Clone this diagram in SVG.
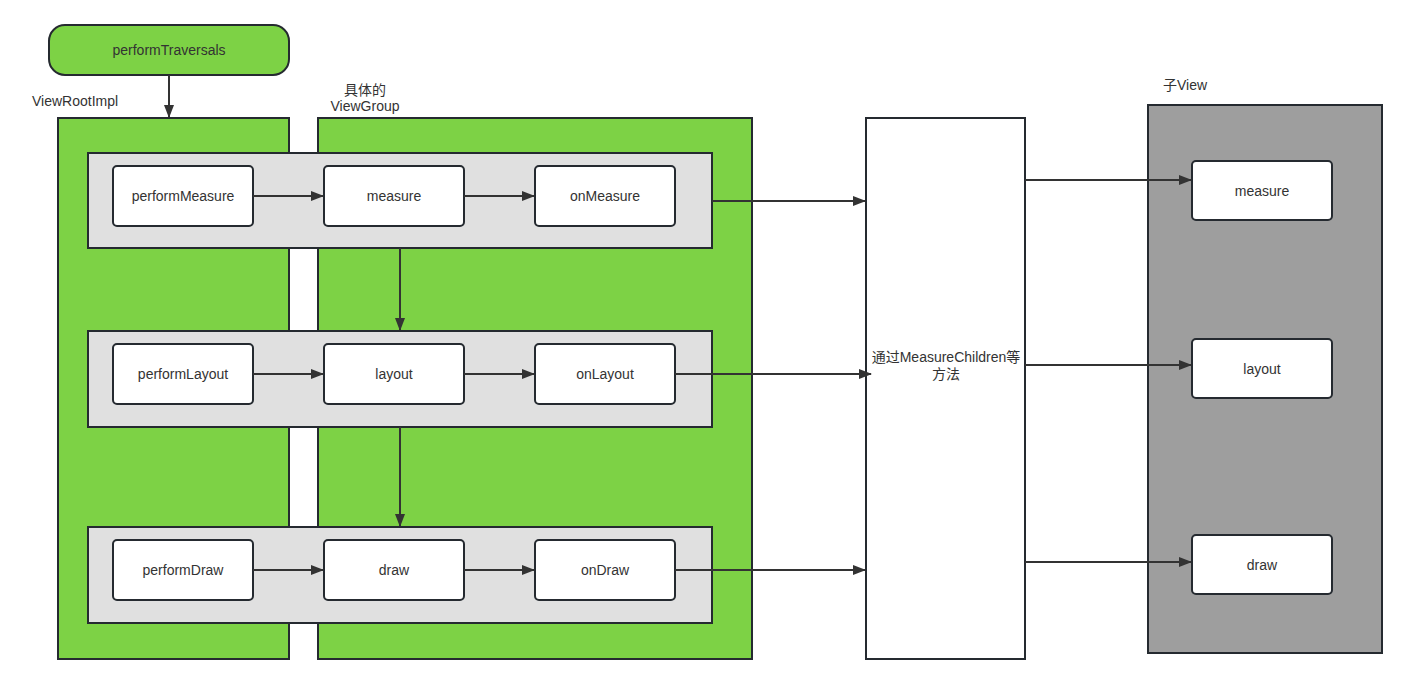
<svg xmlns="http://www.w3.org/2000/svg" width="1407" height="684" viewBox="0 0 1407 684">
<defs>
<marker id="ah" markerWidth="13" markerHeight="10" refX="12" refY="5" orient="auto" markerUnits="userSpaceOnUse">
<path d="M0,0 L13,5 L0,10 Z" fill="#333"/>
</marker>
<style>
text{font-family:"Liberation Sans","Noto Sans CJK SC",sans-serif;font-size:14px;fill:#333;}
.c{text-anchor:middle;dominant-baseline:central;}
.g{fill:#7dd245;stroke:#252a30;stroke-width:2;}
.band{fill:#e0e0e0;stroke:#252a30;stroke-width:2;}
.box{fill:#fff;stroke:#252a30;stroke-width:2;}
.grey{fill:#9e9e9e;stroke:#252a30;stroke-width:2;}
.e{stroke:#333;stroke-width:2;fill:none;marker-end:url(#ah);}
</style>
</defs>
<rect width="1407" height="684" fill="#fff"/>
<g id="viewrootimpl"><rect class="g" x="58" y="118" width="231" height="541"/><text x="32" y="106">ViewRootImpl</text></g>
<g id="viewgroup"><rect class="g" x="318" y="118" width="434" height="541"/><text class="c" x="365" y="90">具体的</text><text class="c" x="365" y="106">ViewGroup</text></g>
<g id="middle"><rect class="box" x="866" y="118" width="159" height="541"/><text class="c" x="946" y="357">通过MeasureChildren等</text><text class="c" x="946" y="374">方法</text></g>
<g id="childview"><rect class="grey" x="1148" y="105" width="234" height="548"/><text x="1163" y="90">子View</text></g>
<g id="traversals"><rect class="g" x="49" y="25" width="240" height="50" rx="16"/><text class="c" x="169" y="50">performTraversals</text></g>
<g id="band-measure"><rect class="band" x="88" y="153" width="624" height="95"/></g>
<g id="band-layout"><rect class="band" x="88" y="331" width="624" height="96"/></g>
<g id="band-draw"><rect class="band" x="88" y="527" width="624" height="96"/></g>
<g id="performMeasure"><rect class="box" x="113" y="166" width="140" height="60" rx="4"/><text class="c" x="183" y="196">performMeasure</text></g>
<g id="measure"><rect class="box" x="324" y="166" width="140" height="60" rx="4"/><text class="c" x="394" y="196">measure</text></g>
<g id="onMeasure"><rect class="box" x="535" y="166" width="140" height="60" rx="4"/><text class="c" x="605" y="196">onMeasure</text></g>
<g id="performLayout"><rect class="box" x="113" y="344" width="140" height="60" rx="4"/><text class="c" x="183" y="374">performLayout</text></g>
<g id="layout"><rect class="box" x="324" y="344" width="140" height="60" rx="4"/><text class="c" x="394" y="374">layout</text></g>
<g id="onLayout"><rect class="box" x="535" y="344" width="140" height="60" rx="4"/><text class="c" x="605" y="374">onLayout</text></g>
<g id="performDraw"><rect class="box" x="113" y="540" width="140" height="60" rx="4"/><text class="c" x="183" y="570">performDraw</text></g>
<g id="draw"><rect class="box" x="324" y="540" width="140" height="60" rx="4"/><text class="c" x="394" y="570">draw</text></g>
<g id="onDraw"><rect class="box" x="535" y="540" width="140" height="60" rx="4"/><text class="c" x="605" y="570">onDraw</text></g>
<g id="child-measure"><rect class="box" x="1192" y="161" width="140" height="59" rx="4"/><text class="c" x="1262" y="191">measure</text></g>
<g id="child-layout"><rect class="box" x="1192" y="339" width="140" height="59" rx="4"/><text class="c" x="1262" y="369">layout</text></g>
<g id="child-draw"><rect class="box" x="1192" y="535" width="140" height="59" rx="4"/><text class="c" x="1262" y="565">draw</text></g>
<g id="connectors">
<path class="e" d="M169,75 V117"/>
<path class="e" d="M253,196 H323"/>
<path class="e" d="M464,196 H534"/>
<path class="e" d="M253,374 H323"/>
<path class="e" d="M464,374 H534"/>
<path class="e" d="M253,570 H323"/>
<path class="e" d="M464,570 H534"/>
<path class="e" d="M400,248 V330"/>
<path class="e" d="M400,427 V526"/>
<path class="e" d="M712,201 H865"/>
<path class="e" d="M675,374 H871"/>
<path class="e" d="M675,570 H865"/>
<path class="e" d="M1025,180 H1191"/>
<path class="e" d="M1025,365 H1191"/>
<path class="e" d="M1025,562 H1191"/>
</g>
</svg>
